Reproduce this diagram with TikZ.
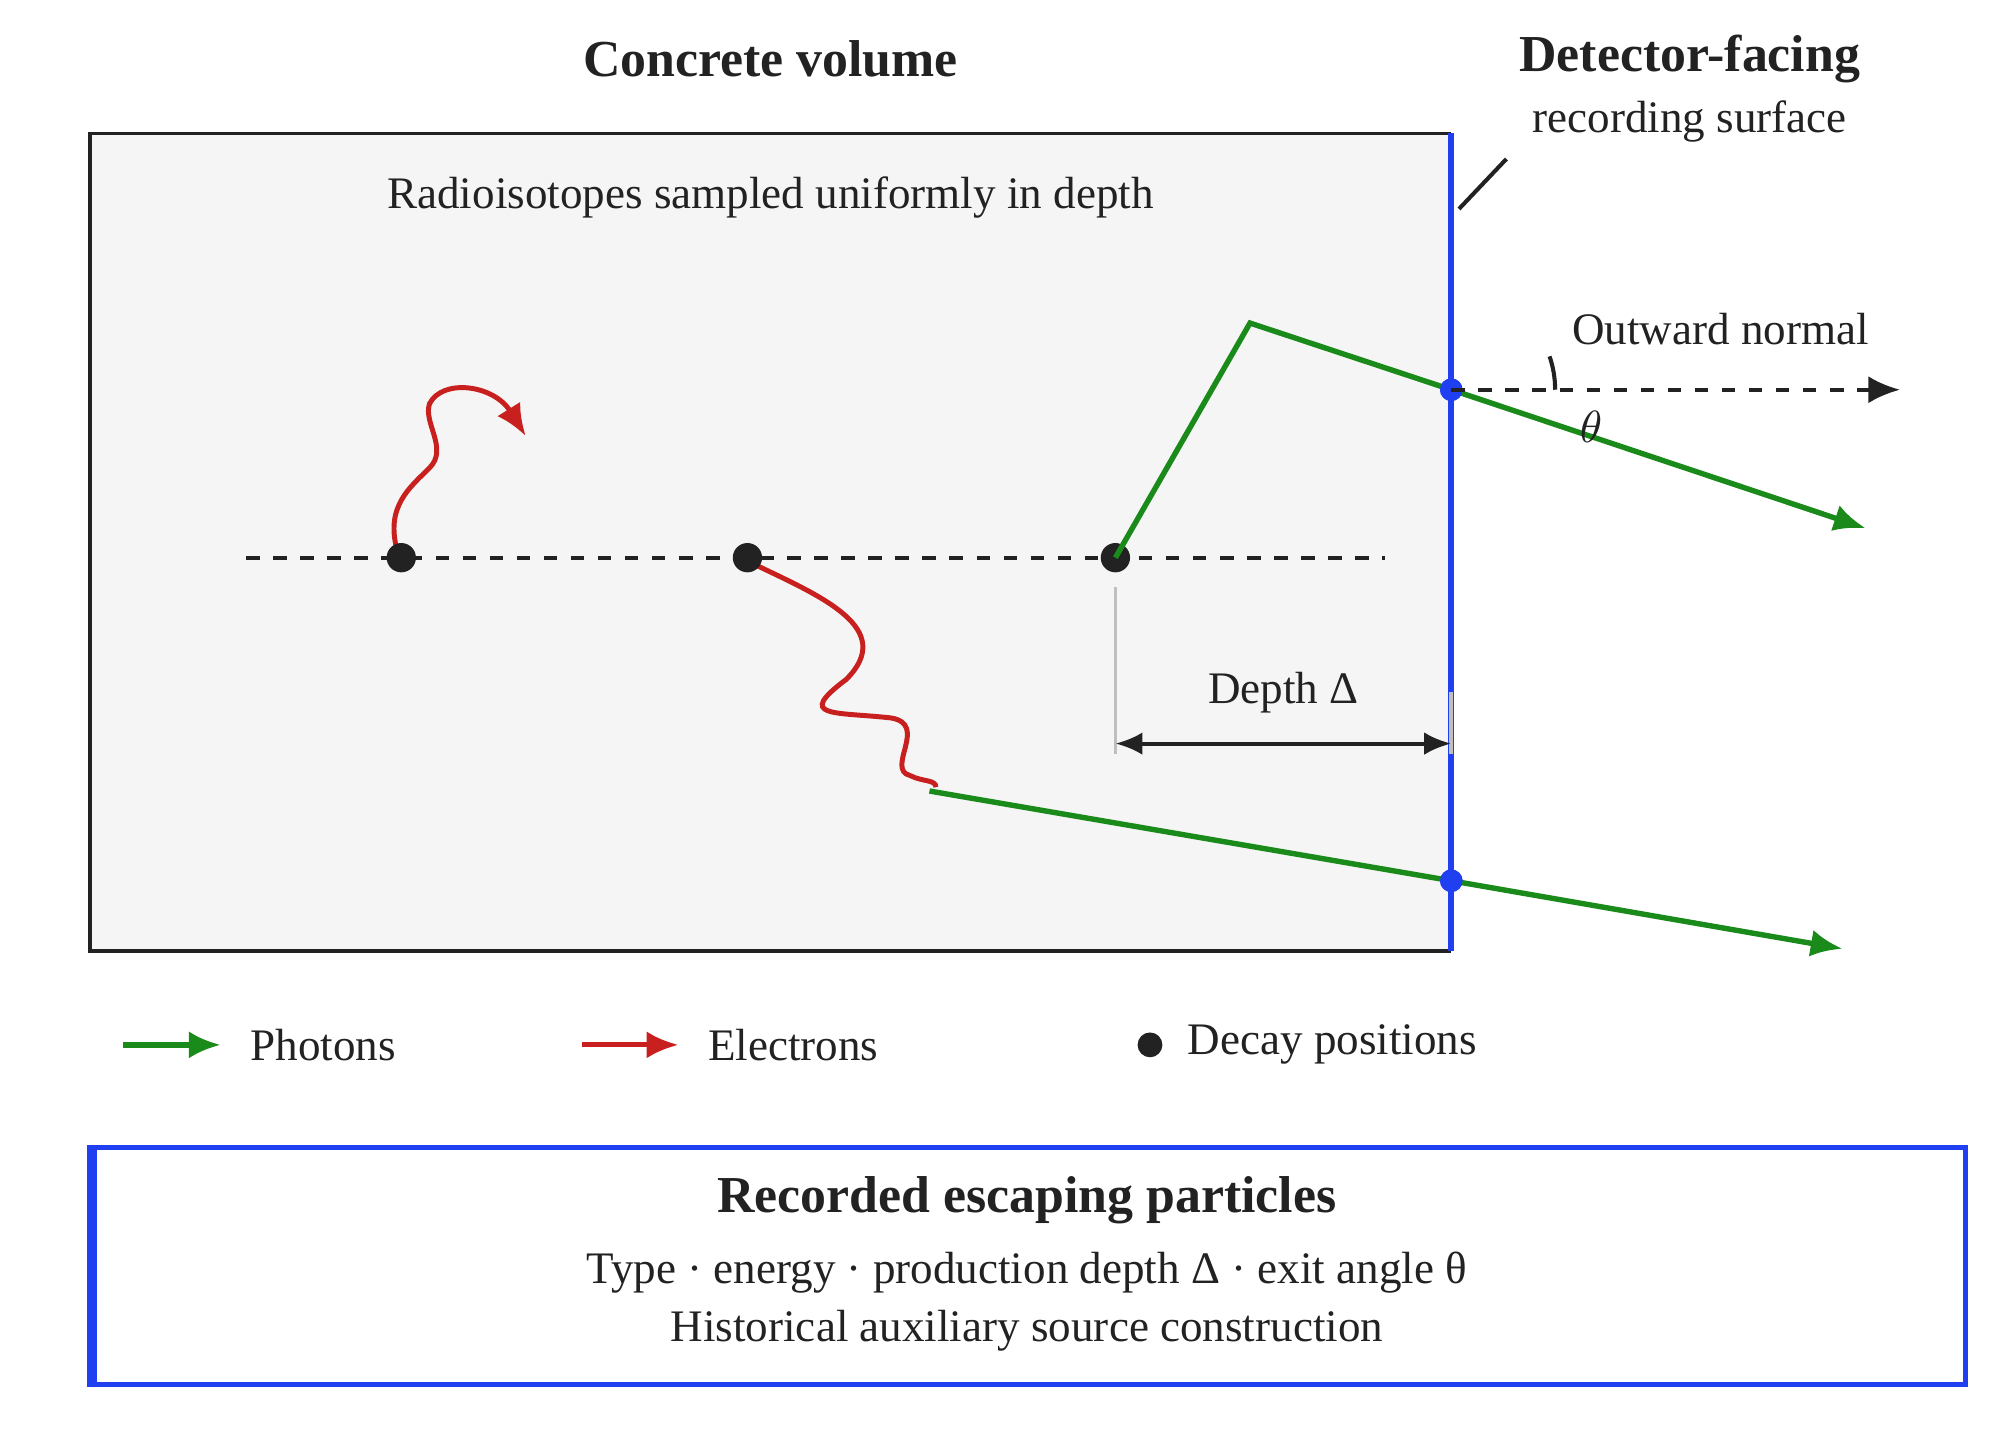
\documentclass[tikz,border=0pt]{standalone}
\usepackage{fontspec}
\setmainfont{Liberation Serif}
\usetikzlibrary{arrows.meta,decorations.pathmorphing}
\definecolor{pgreen}{HTML}{1A8A1A}
\definecolor{ered}{HTML}{C8201E}
\definecolor{sblue}{HTML}{1F3FF0}
\definecolor{dk}{HTML}{222222}
\begin{document}
\begin{tikzpicture}[x=0.01cm,y=-0.01cm,
  txt/.style={font=\fontsize{10}{12}\selectfont,text=dk},
  ttl/.style={font=\fontsize{11.5}{13}\selectfont\bfseries,text=dk},
  photon/.style={pgreen,line width=1.2pt},
  electron/.style={ered,line width=1.1pt},
  decay/.style={circle,fill=dk,inner sep=0pt,minimum size=6.5pt},
  hit/.style={circle,fill=sblue,inner sep=0pt,minimum size=5pt},
  tip/.style={-{Latex[length=7pt,width=6pt]}}]
\useasboundingbox (0,0) rectangle (1560,1128);
\fill[white] (0,0) rectangle (1560,1128);
% volume
\draw[dk,fill=black!4,line width=0.8pt] (1132,104) -- (70,104) -- (70,742) -- (1132,742);
\draw[sblue,line width=1.4pt] (1132,104) -- (1132,742);
\node[ttl] (t1) at (601,46) {Concrete volume};
\node[ttl] (t2) at (1318,46) {Detector-facing};
\node[txt] (t3) at (1318,95) {recording surface};
\coordinate (la) at (1175,124); \coordinate (lb) at (1138,163);
\draw[dk,line width=0.9pt] (la) -- (lb);
\node[txt] (rs) at (601,154) {Radioisotopes sampled uniformly in depth};
% axis
\coordinate (d0) at (192,435); \coordinate (d1) at (1080,435);
\draw[dk,dashed,line width=0.9pt] (d0) -- (d1);
% electrons
\draw[electron,tip] (310,430) .. controls (300,395) and (320,380) .. (335,365)
  .. controls (350,350) and (330,330) .. (335,315) .. controls (345,295) and (385,300) .. (410,340);
\draw[electron] (588,440) .. controls (640,465) and (700,490) .. (660,530)
  .. controls (620,560) and (650,555) .. (695,560) .. controls (725,565) and (690,600) .. (710,605)
  .. controls (720,610) and (730,608) .. (730,614);
% photons
\coordinate (p1) at (725,617); \coordinate (p2) at (1437,740);
\coordinate (q1) at (975,252); \coordinate (q2) at (1455,412);
\node[hit] (h1) at (1132,304) {};
\node[hit] (h2) at (1132,687) {};
\draw[photon,tip] (p1) -- (h2.center) -- (p2);
\node[decay] (e1) at (313,435) {};
\node[decay] (e2) at (583,435) {};
\node[decay] (e3) at (870,435) {};
\draw[photon] (e3.center) -- (q1) -- (h1.center);
\draw[photon,tip] (h1.center) -- (q2);
\node[hit] at (1132,304) {};
\node[hit] at (1132,687) {};
% normal
\coordinate (n1) at (1482,304);
\draw[dk,dashed,line width=0.9pt,tip] (h1.center) -- (n1);
\node[txt] (on) at (1342,257) {Outward normal};
\draw[dk,line width=0.9pt] (1213,304) arc[start angle=0,end angle=-19,radius=80];
\node[txt,font=\fontsize{10}{12}\selectfont\itshape] (th) at (1241,333) {$\theta$};
% depth
\draw[black!25,line width=0.8pt] (870,458) -- (870,588);
\draw[black!25,line width=0.8pt] (1132,540) -- (1132,588);
\coordinate (a1) at (870,580); \coordinate (a2) at (1132,580);
\draw[dk,line width=0.9pt,{Latex[length=6pt,width=5pt]}-{Latex[length=6pt,width=5pt]}] (a1) -- (a2);
\node[txt] (dl) at (1001,540) {Depth Δ};
% legend
\coordinate (g1) at (96,815); \coordinate (g2) at (172,815);
\draw[photon,tip] (g1) -- (g2);
\node[txt,anchor=west] (lg1) at (183,815) {Photons};
\coordinate (r1) at (454,815); \coordinate (r2) at (529,815);
\draw[electron,tip] (r1) -- (r2);
\node[txt,anchor=west] (lg2) at (540,815) {Electrons};
\node[decay,minimum size=5.5pt] (ld) at (897,815) {};
\node[txt,anchor=west] (lg3) at (914,815) {Decay positions};
% bottom box
\draw[sblue,line width=1pt] (70,895) rectangle (1533,1080);
\fill[sblue] (69,895) rectangle (76,1080);
\node[ttl] (b1) at (801,936) {Recorded escaping particles};
\node[txt] (b2) at (801,993) {Type · energy · production depth Δ · exit angle θ};
\node[txt] (b3) at (801,1038) {Historical auxiliary source construction};
\end{tikzpicture}
\end{document}
